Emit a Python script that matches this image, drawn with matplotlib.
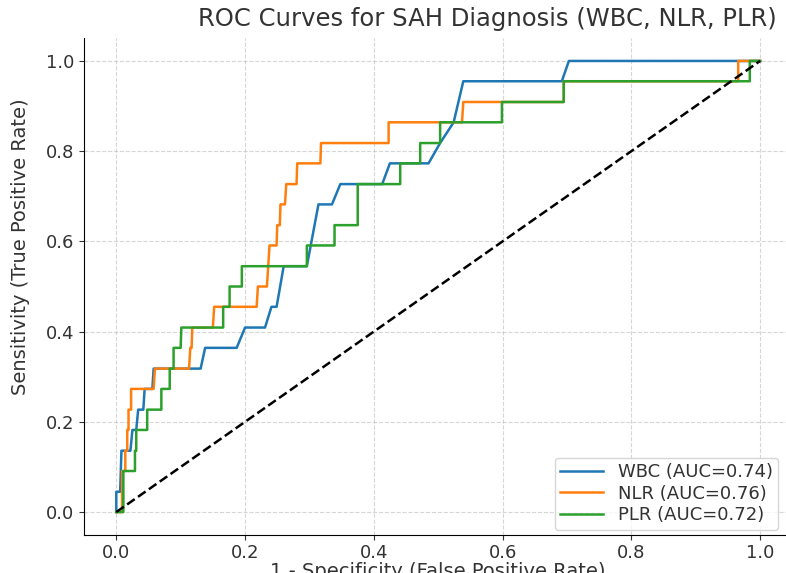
import matplotlib
matplotlib.use("Agg")
import matplotlib.pyplot as plt

# ROC points (fpr, tpr)
wbc_fpr = [0, 0, 0.006, 0.008, 0.022, 0.025, 0.031, 0.034, 0.042, 0.044,
           0.056, 0.058, 0.131, 0.138, 0.187, 0.200, 0.231, 0.241, 0.249, 0.260,
           0.296, 0.314, 0.335, 0.348, 0.413, 0.425, 0.485, 0.503, 0.524, 0.539,
           0.692, 0.703, 1.0]
wbc_tpr = [0, 0.045, 0.045, 0.136, 0.136, 0.182, 0.182, 0.227, 0.227, 0.273,
           0.273, 0.318, 0.318, 0.364, 0.364, 0.409, 0.409, 0.455, 0.455, 0.545,
           0.545, 0.682, 0.682, 0.727, 0.727, 0.773, 0.773, 0.818, 0.864, 0.955,
           0.955, 1.0, 1.0]

nlr_fpr = [0, 0.009, 0.009, 0.014, 0.014, 0.017, 0.017, 0.019, 0.019, 0.023,
           0.023, 0.058, 0.060, 0.113, 0.115, 0.117, 0.118, 0.150, 0.152, 0.218,
           0.220, 0.234, 0.236, 0.238, 0.249, 0.250, 0.254, 0.255, 0.262, 0.264,
           0.280, 0.281, 0.317, 0.318, 0.423, 0.423, 0.537, 0.539, 0.695, 0.695,
           0.966, 0.966, 1.0]
nlr_tpr = [0, 0, 0.091, 0.091, 0.136, 0.136, 0.182, 0.182, 0.227, 0.227,
           0.273, 0.273, 0.318, 0.318, 0.364, 0.364, 0.409, 0.409, 0.455, 0.455,
           0.5, 0.5, 0.545, 0.591, 0.591, 0.636, 0.636, 0.682, 0.682, 0.727,
           0.727, 0.773, 0.773, 0.818, 0.818, 0.864, 0.864, 0.909, 0.909, 0.955,
           0.955, 1.0, 1.0]

plr_fpr = [0, 0.011, 0.011, 0.029, 0.029, 0.031, 0.031, 0.048, 0.048, 0.070,
           0.070, 0.083, 0.083, 0.089, 0.089, 0.100, 0.101, 0.166, 0.166, 0.176,
           0.176, 0.195, 0.195, 0.296, 0.296, 0.339, 0.339, 0.375, 0.375, 0.441,
           0.441, 0.472, 0.472, 0.503, 0.503, 0.599, 0.599, 0.695, 0.695, 0.984,
           0.984, 1.0]
plr_tpr = [0, 0, 0.091, 0.091, 0.136, 0.136, 0.182, 0.182, 0.227, 0.227,
           0.273, 0.273, 0.318, 0.318, 0.364, 0.364, 0.409, 0.409, 0.455, 0.455,
           0.5, 0.5, 0.545, 0.545, 0.591, 0.591, 0.636, 0.636, 0.727, 0.727,
           0.773, 0.773, 0.818, 0.818, 0.864, 0.864, 0.909, 0.909, 0.955, 0.955,
           1.0, 1.0]

labels = ["WBC (AUC=0.74)", "NLR (AUC=0.76)", "PLR (AUC=0.72)"]
ticks = [0.0, 0.2, 0.4, 0.6, 0.8, 1.0]
txt = "#333333"

fig = plt.figure(figsize=(7.86, 5.73), dpi=100)
ax = fig.add_axes([0.107, 0.067, 0.901, 0.866])

ax.plot(wbc_fpr, wbc_tpr, color="#1f77b4", lw=1.8, label=labels[0])
ax.plot(nlr_fpr, nlr_tpr, color="#ff7f0e", lw=1.8, label=labels[1])
ax.plot(plr_fpr, plr_tpr, color="#2ca02c", lw=1.8, label=labels[2])
ax.plot([0, 1], [0, 1], "k--", lw=1.8)

ax.set_xlim(-0.05, 1.05)
ax.set_ylim(-0.05, 1.05)
ax.set_xticks(ticks)
ax.set_yticks(ticks)
ax.tick_params(labelsize=13, colors=txt)
ax.grid(True, linestyle="--", color="#bbbbbb", alpha=0.6, lw=0.8)
ax.spines["top"].set_visible(False)
ax.spines["right"].set_visible(False)

# title and y label sit off-centre in the reference
ax.set_title("ROC Curves for SAH Diagnosis (WBC, NLR, PLR)", fontsize=17.5,
             color=txt, pad=9, x=0.569)
ax.set_xlabel("1 - Specificity (False Positive Rate)", fontsize=14,
              color=txt, labelpad=0)
ax.set_ylabel("Sensitivity (True Positive Rate)", fontsize=14, color=txt)
ax.yaxis.set_label_coords(-0.077, 0.58)

ax.legend(loc="lower right", bbox_to_anchor=(0.98, 0.01), borderaxespad=0,
          fontsize=13, handlelength=2.4, labelspacing=0.2, borderpad=0.3,
          labelcolor=txt)

fig.savefig("out.png", dpi=100)
